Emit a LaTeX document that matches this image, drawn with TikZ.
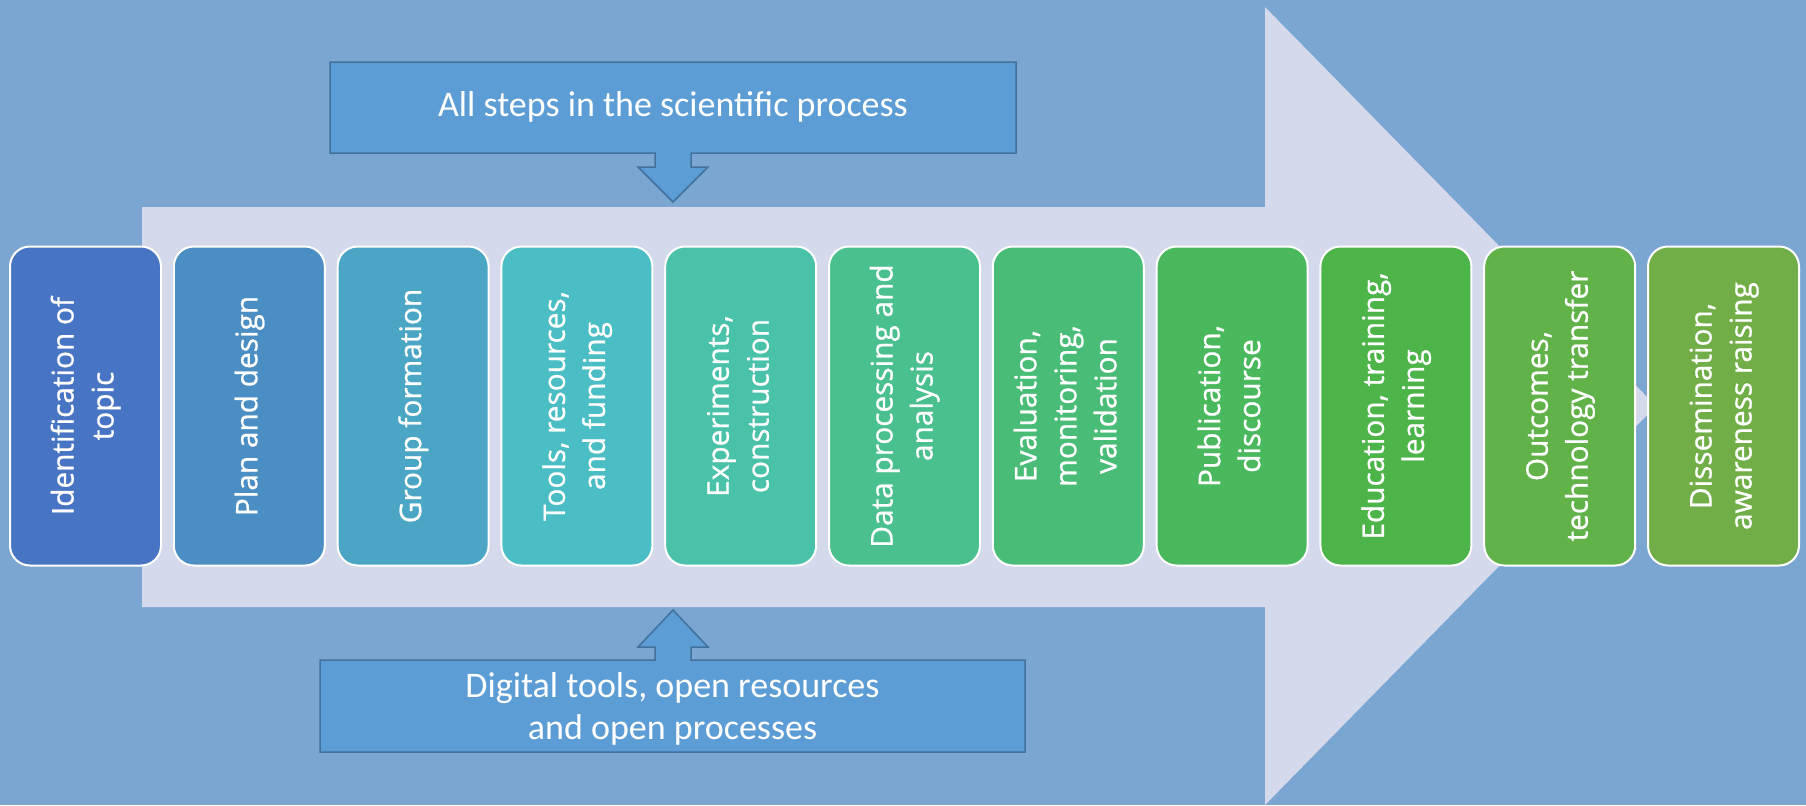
\documentclass[tikz,border=0pt]{standalone}
\usepackage{fontspec}
\usepackage{graphicx}
\setmainfont{Open Sans}
\newfontfamily\calfont{Carlito}
\newfontfamily\stagefont[FakeBold=0.8]{Open Sans}
\usetikzlibrary{positioning}

\definecolor{bgblue}{RGB}{123,166,210}
\definecolor{bigarrow}{RGB}{212,217,236}
\definecolor{callfill}{RGB}{93,157,214}
\definecolor{callline}{RGB}{65,113,156}
\definecolor{st1}{RGB}{72,116,196}
\definecolor{st2}{RGB}{74,142,196}
\definecolor{st3}{RGB}{74,166,196}
\definecolor{st4}{RGB}{74,190,196}
\definecolor{st5}{RGB}{74,194,170}
\definecolor{st6}{RGB}{73,192,142}
\definecolor{st7}{RGB}{73,189,120}
\definecolor{st8}{RGB}{74,185,94}
\definecolor{st9}{RGB}{77,180,74}
\definecolor{st10}{RGB}{97,178,73}
\definecolor{st11}{RGB}{114,174,72}

\newcommand{\vlabel}[1]{\rotatebox{90}{\begin{tabular}{@{}c@{}}#1\end{tabular}}}

\begin{document}
\begin{tikzpicture}[x=0.5pt, y=-0.5pt, node distance=6.4pt,
  stage/.style = {draw=white, line width=1pt, rounded corners=10pt, outer sep=0pt, inner sep=0pt,
    minimum width=75.5pt, minimum height=159.5pt, text=white, font=\stagefont\fontsize{14.9}{20}\selectfont},
  callout/.style = {fill=callfill, draw=callline, line width=0.75pt},
  note/.style = {text=white, align=center, font=\calfont\fontsize{18}{21}\selectfont}]
  \useasboundingbox (0,0) rectangle (1806,805);
  \fill[bgblue] (0,0) rectangle (1806,805);
  % big process arrow
  \fill[bigarrow] (142,207) -- (1265,207) -- (1265,7) -- (1656,406) -- (1265,805) -- (1265,607) -- (142,607) -- cycle;
  % stages
  \node[stage, fill=st1] (1) at (85.5,406) {\vlabel{Identification of\\topic}};
  \node[stage, fill=st2, right=of 1] (2) {\vlabel{Plan and design}};
  \node[stage, fill=st3, right=of 2] (3) {\vlabel{Group formation}};
  \node[stage, fill=st4, right=of 3] (4) {\vlabel{Tools, resources,\\and funding}};
  \node[stage, fill=st5, right=of 4] (5) {\vlabel{Experiments,\\construction}};
  \node[stage, fill=st6, right=of 5] (6) {\vlabel{Data processing and\\analysis}};
  \node[stage, fill=st7, right=of 6] (7) {\vlabel{Evaluation,\\monitoring,\\validation}};
  \node[stage, fill=st8, right=of 7] (8) {\vlabel{Publication,\\discourse}};
  \node[stage, fill=st9, right=of 8] (9) {\vlabel{Education, training,\\learning}};
  \node[stage, fill=st10, right=of 9] (10) {\vlabel{Outcomes,\\technology transfer}};
  \node[stage, fill=st11, right=of 10] (11) {\vlabel{Dissemination,\\awareness raising}};
  % callouts
  \draw[callout] (330,62) -- (1016,62) -- (1016,153) -- (691,153) -- (691,167) -- (708,167) -- (673,202)
    -- (638,167) -- (655,167) -- (655,153) -- (330,153) -- cycle;
  \node[note] (steps) at (673,107) {All steps in the scientific process};
  \draw[callout] (320,660) -- (655,660) -- (655,647) -- (638,647) -- (673,610) -- (708,647) -- (691,647)
    -- (691,660) -- (1025,660) -- (1025,752) -- (320,752) -- cycle;
  \node[note] (tools) at (672.5,709) {Digital tools, open resources\\and open processes};
\end{tikzpicture}
\end{document}
